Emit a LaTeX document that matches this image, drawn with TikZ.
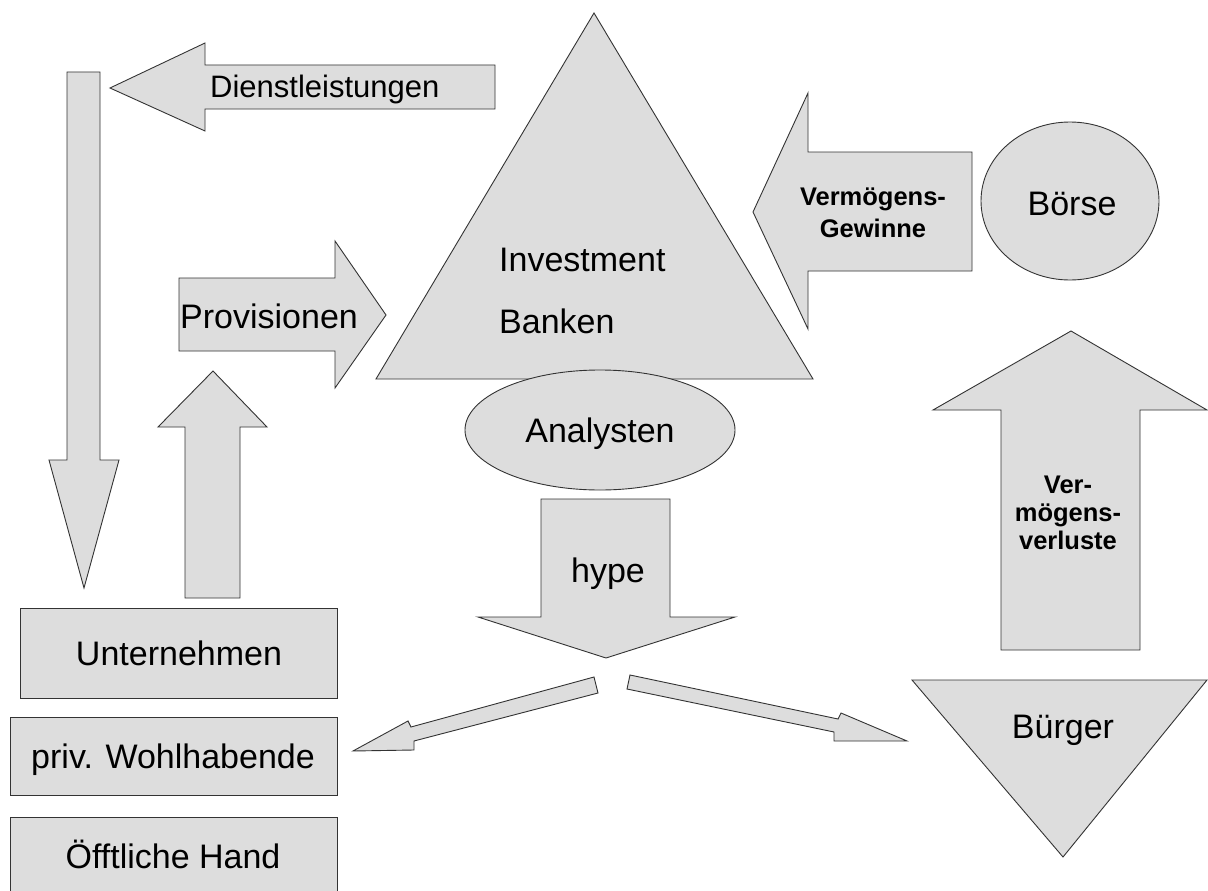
\documentclass[tikz,border=0pt]{standalone}
\usepackage{fontspec}
\setmainfont{Liberation Sans}
\definecolor{shapegray}{HTML}{DDDDDD}
\begin{document}
\begin{tikzpicture}[x=1pt,y=-1pt,
  shp/.style={fill=shapegray, draw=black!80, line width=0.9pt, line join=miter},
  lbl/.style={font=\fontsize{34}{40}\selectfont, inner sep=0pt, anchor=base},
  lblw/.style={font=\fontsize{34}{40}\selectfont, inner sep=0pt, anchor=base west},
  lbls/.style={font=\fontsize{31}{36}\selectfont, inner sep=0pt, anchor=base west},
  blbl/.style={font=\bfseries\fontsize{25.5}{29}\selectfont, inner sep=0pt, anchor=base},
]
\clip (0,0) rectangle (1208,891);
\fill[white] (0,0) rectangle (1208,891);

% Dienstleistungen arrow (left)
\draw[shp] (110,88) -- (205,43) -- (205,65) -- (495,65) -- (495,109) -- (205,109) -- (205,131) -- cycle;
\node[lbls] (dienst) at (210,98) {Dienstleistungen};

% long down arrow
\draw[shp] (67,72) -- (100,72) -- (100,460) -- (119,460) -- (84,588) -- (49,460) -- (67,460) -- cycle;

% up arrow
\draw[shp] (213,371) -- (267,427) -- (240,427) -- (240,598) -- (185,598) -- (185,427) -- (158,427) -- cycle;

% Provisionen arrow
\draw[shp] (179,278) -- (335,278) -- (335,241) -- (386,315) -- (335,388) -- (335,351) -- (179,351) -- cycle;
\node[lblw] (prov) at (180,328) {Provisionen};

% Investment Banken triangle
\draw[shp] (594,13) -- (813,379) -- (376,379) -- cycle;
\node[lblw] (invest) at (499,271) {Investment};
\node[lblw] (banken) at (499,333) {Banken};

% Analysten ellipse
\draw[shp] (600,430) ellipse [x radius=135, y radius=60];
\node[lbl] (analysten) at (600,442) {Analysten};

% hype arrow
\draw[shp] (541,499) -- (670,499) -- (670,617) -- (735,617) -- (606,658) -- (478,617) -- (541,617) -- cycle;
\node[lbl] (hype) at (608,582) {hype};

% diagonal arrows
\draw[shp] (594,677) -- (598,693) -- (414,741) -- (414,750) -- (353,751) -- (408,721) -- (411,727) -- cycle;
\draw[shp] (630,675) -- (838,719) -- (841,713) -- (907,741) -- (834,741) -- (834,732) -- (627,689) -- cycle;

% Vermoegens-Gewinne arrow
\draw[shp] (753,212) -- (808,93) -- (808,152) -- (972,152) -- (972,271) -- (808,271) -- (808,329) -- cycle;
\node[blbl] (vg1) at (873,205) {Vermögens-};
\node[blbl] (vg2) at (873,237) {Gewinne};

% Boerse
\draw[shp] (1070,201) ellipse [x radius=89, y radius=79];
\node[lbl] (boerse) at (1072,215) {Börse};

% Vermoegensverluste up arrow
\draw[shp] (1071,331) -- (1207,410) -- (1140,410) -- (1140,650) -- (1001,650) -- (1001,410) -- (933,410) -- cycle;
\node[blbl] (vv1) at (1068,493) {Ver-};
\node[blbl] (vv2) at (1068,521) {mögens-};
\node[blbl] (vv3) at (1068,549) {verluste};

% Buerger triangle
\draw[shp] (912,680) -- (1207,680) -- (1063,857) -- cycle;
\node[lbl] (buerger) at (1063,738) {Bürger};

% boxes
\draw[shp] (20,608) rectangle (337,698);
\node[lbl] (unt) at (179,665) {Unternehmen};
\draw[shp] (10,717) rectangle (337,795);
\node[lbl] (priv) at (173,768) {priv. Wohlhabende};
\draw[shp] (10,817) rectangle (337,905);
\node[lbl] (oeff) at (173,868) {Öfftliche Hand};
\end{tikzpicture}
\end{document}
